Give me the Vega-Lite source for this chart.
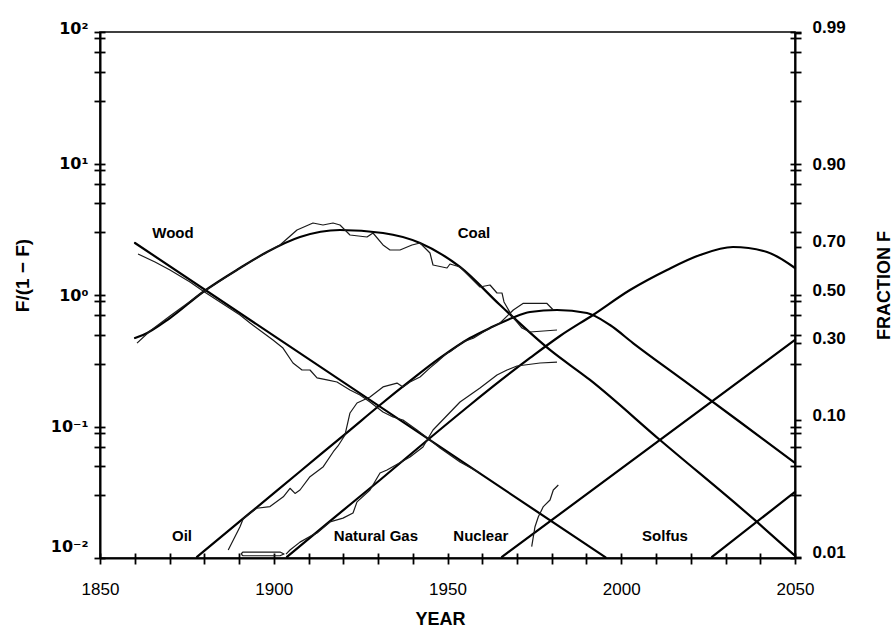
{
  "$schema": "https://vega.github.io/schema/vega-lite/v6.json",
  "width": 695,
  "height": 526,
  "autosize": {"type": "none"},
  "padding": {"left": 100, "top": 32, "right": 98, "bottom": 70},
  "background": "white",
  "config": {
    "view": {"stroke": "black", "strokeWidth": 1.6},
    "font": "Liberation Sans",
    "axis": {"domainColor": "black", "tickColor": "black", "labelColor": "black", "titleColor": "black", "grid": false, "domainWidth": 2, "tickWidth": 1.8, "labelFont": "Liberation Sans", "titleFont": "Liberation Sans", "labelOverlap": false, "labelFlush": false, "labelBound": false}
  },
  "datasets": {
    "fits": [
      {"s": "wood", "year": 1860.07, "v": 2.486},
      {"s": "wood", "year": 1995.5, "v": 0.0101},
      {"s": "coal", "year": 1860.07, "v": 0.471},
      {"s": "coal", "year": 1862.37, "v": 0.496},
      {"s": "coal", "year": 1870.14, "v": 0.668},
      {"s": "coal", "year": 1879.64, "v": 1.054},
      {"s": "coal", "year": 1890.29, "v": 1.604},
      {"s": "coal", "year": 1898.06, "v": 2.123},
      {"s": "coal", "year": 1907.55, "v": 2.761},
      {"s": "coal", "year": 1919.06, "v": 3.121},
      {"s": "coal", "year": 1931.44, "v": 2.961},
      {"s": "coal", "year": 1942.09, "v": 2.486},
      {"s": "coal", "year": 1953.6, "v": 1.633},
      {"s": "coal", "year": 1965.11, "v": 0.839},
      {"s": "coal", "year": 1979.5, "v": 0.382},
      {"s": "coal", "year": 1991.01, "v": 0.226},
      {"s": "coal", "year": 2011.15, "v": 0.0789},
      {"s": "coal", "year": 2039.06, "v": 0.0188},
      {"s": "coal", "year": 2050, "v": 0.0104},
      {"s": "oil", "year": 1877.91, "v": 0.0102},
      {"s": "oil", "year": 1893.17, "v": 0.022},
      {"s": "oil", "year": 1907.55, "v": 0.0455},
      {"s": "oil", "year": 1921.94, "v": 0.094},
      {"s": "oil", "year": 1930.58, "v": 0.1457},
      {"s": "oil", "year": 1939.21, "v": 0.222},
      {"s": "oil", "year": 1947.84, "v": 0.332},
      {"s": "oil", "year": 1956.47, "v": 0.471},
      {"s": "oil", "year": 1962.23, "v": 0.561},
      {"s": "oil", "year": 1968.56, "v": 0.668},
      {"s": "oil", "year": 1973.74, "v": 0.743},
      {"s": "oil", "year": 1981.51, "v": 0.769},
      {"s": "oil", "year": 1990.14, "v": 0.73},
      {"s": "oil", "year": 1996.76, "v": 0.591},
      {"s": "oil", "year": 2003.38, "v": 0.431},
      {"s": "oil", "year": 2017.77, "v": 0.226},
      {"s": "oil", "year": 2034.17, "v": 0.1082},
      {"s": "oil", "year": 2050, "v": 0.0528},
      {"s": "gas", "year": 1903.81, "v": 0.0102},
      {"s": "gas", "year": 1916.19, "v": 0.0191},
      {"s": "gas", "year": 1930.58, "v": 0.0392},
      {"s": "gas", "year": 1944.96, "v": 0.0818},
      {"s": "gas", "year": 1956.47, "v": 0.1457},
      {"s": "gas", "year": 1965.11, "v": 0.222},
      {"s": "gas", "year": 1973.74, "v": 0.332},
      {"s": "gas", "year": 1982.37, "v": 0.488},
      {"s": "gas", "year": 1991.87, "v": 0.705},
      {"s": "gas", "year": 2002.52, "v": 1.091},
      {"s": "gas", "year": 2013.17, "v": 1.55},
      {"s": "gas", "year": 2022.66, "v": 2.015},
      {"s": "gas", "year": 2032.16, "v": 2.317},
      {"s": "gas", "year": 2041.94, "v": 2.123},
      {"s": "gas", "year": 2050, "v": 1.604},
      {"s": "nuclear", "year": 1965.68, "v": 0.0102},
      {"s": "nuclear", "year": 2050, "v": 0.455},
      {"s": "solfus", "year": 2026.12, "v": 0.0102},
      {"s": "solfus", "year": 2050, "v": 0.0318}
    ],
    "obs": [
      {"s": "wood", "n": 1, "year": 1860.94, "v": 2.05},
      {"s": "wood", "n": 2, "year": 1865.83, "v": 1.782},
      {"s": "wood", "n": 3, "year": 1870.14, "v": 1.55},
      {"s": "wood", "n": 4, "year": 1875.9, "v": 1.256},
      {"s": "wood", "n": 5, "year": 1879.64, "v": 1.073},
      {"s": "wood", "n": 6, "year": 1884.53, "v": 0.885},
      {"s": "wood", "n": 7, "year": 1890.29, "v": 0.705},
      {"s": "wood", "n": 8, "year": 1893.17, "v": 0.612},
      {"s": "wood", "n": 9, "year": 1899.78, "v": 0.455},
      {"s": "wood", "n": 10, "year": 1902.66, "v": 0.395},
      {"s": "wood", "n": 11, "year": 1905.54, "v": 0.304},
      {"s": "wood", "n": 12, "year": 1908.13, "v": 0.269},
      {"s": "wood", "n": 13, "year": 1910.43, "v": 0.269},
      {"s": "wood", "n": 14, "year": 1912.45, "v": 0.234},
      {"s": "wood", "n": 15, "year": 1915.32, "v": 0.226},
      {"s": "wood", "n": 16, "year": 1918.2, "v": 0.218},
      {"s": "wood", "n": 17, "year": 1921.94, "v": 0.1895},
      {"s": "wood", "n": 18, "year": 1924.82, "v": 0.1736},
      {"s": "wood", "n": 19, "year": 1927.7, "v": 0.1536},
      {"s": "wood", "n": 20, "year": 1931.44, "v": 0.1289},
      {"s": "wood", "n": 21, "year": 1934.32, "v": 0.1181},
      {"s": "wood", "n": 22, "year": 1937.19, "v": 0.1121},
      {"s": "wood", "n": 23, "year": 1941.22, "v": 0.094},
      {"s": "wood", "n": 24, "year": 1944.96, "v": 0.0789},
      {"s": "wood", "n": 25, "year": 1947.84, "v": 0.0686},
      {"s": "wood", "n": 26, "year": 1953.6, "v": 0.0537},
      {"s": "wood", "n": 27, "year": 1959.35, "v": 0.0443},
      {"s": "coal", "n": 1, "year": 1860.65, "v": 0.431},
      {"s": "coal", "n": 2, "year": 1864.39, "v": 0.532},
      {"s": "coal", "n": 3, "year": 1870.14, "v": 0.692},
      {"s": "coal", "n": 4, "year": 1879.64, "v": 1.054},
      {"s": "coal", "n": 5, "year": 1890.29, "v": 1.604},
      {"s": "coal", "n": 6, "year": 1898.06, "v": 2.123},
      {"s": "coal", "n": 7, "year": 1901.8, "v": 2.401},
      {"s": "coal", "n": 8, "year": 1906.69, "v": 3.121},
      {"s": "coal", "n": 9, "year": 1911.29, "v": 3.528},
      {"s": "coal", "n": 10, "year": 1914.17, "v": 3.406},
      {"s": "coal", "n": 11, "year": 1917.05, "v": 3.528},
      {"s": "coal", "n": 12, "year": 1919.06, "v": 3.406},
      {"s": "coal", "n": 13, "year": 1921.94, "v": 2.859},
      {"s": "coal", "n": 14, "year": 1926.83, "v": 2.761},
      {"s": "coal", "n": 15, "year": 1928.56, "v": 2.961},
      {"s": "coal", "n": 16, "year": 1931.44, "v": 2.401},
      {"s": "coal", "n": 17, "year": 1933.45, "v": 2.198},
      {"s": "coal", "n": 18, "year": 1936.33, "v": 2.198},
      {"s": "coal", "n": 19, "year": 1939.78, "v": 2.401},
      {"s": "coal", "n": 20, "year": 1942.09, "v": 2.486},
      {"s": "coal", "n": 21, "year": 1944.96, "v": 2.086},
      {"s": "coal", "n": 22, "year": 1945.83, "v": 1.691},
      {"s": "coal", "n": 23, "year": 1949.86, "v": 1.604},
      {"s": "coal", "n": 24, "year": 1950.72, "v": 1.721},
      {"s": "coal", "n": 25, "year": 1953.6, "v": 1.633},
      {"s": "coal", "n": 26, "year": 1959.35, "v": 1.15},
      {"s": "coal", "n": 27, "year": 1962.23, "v": 1.191},
      {"s": "coal", "n": 28, "year": 1964.24, "v": 1.036},
      {"s": "coal", "n": 29, "year": 1965.68, "v": 1.036},
      {"s": "coal", "n": 30, "year": 1966.26, "v": 0.885},
      {"s": "coal", "n": 31, "year": 1968.56, "v": 0.692},
      {"s": "coal", "n": 32, "year": 1971.44, "v": 0.561},
      {"s": "coal", "n": 33, "year": 1973.74, "v": 0.523},
      {"s": "coal", "n": 34, "year": 1981.51, "v": 0.542},
      {"s": "oil", "n": 1, "year": 1886.9, "v": 0.0115},
      {"s": "oil", "n": 2, "year": 1890.29, "v": 0.0173},
      {"s": "oil", "n": 3, "year": 1891.24, "v": 0.02},
      {"s": "oil", "n": 4, "year": 1895.09, "v": 0.0239},
      {"s": "oil", "n": 5, "year": 1898.92, "v": 0.0246},
      {"s": "oil", "n": 6, "year": 1902.75, "v": 0.0292},
      {"s": "oil", "n": 7, "year": 1904.68, "v": 0.0339},
      {"s": "oil", "n": 8, "year": 1906.12, "v": 0.031},
      {"s": "oil", "n": 9, "year": 1907.55, "v": 0.0329},
      {"s": "oil", "n": 10, "year": 1910.43, "v": 0.0415},
      {"s": "oil", "n": 11, "year": 1914.26, "v": 0.0495},
      {"s": "oil", "n": 12, "year": 1917.14, "v": 0.0643},
      {"s": "oil", "n": 13, "year": 1918.49, "v": 0.0711},
      {"s": "oil", "n": 14, "year": 1920.5, "v": 0.0862},
      {"s": "oil", "n": 15, "year": 1921.94, "v": 0.1267},
      {"s": "oil", "n": 16, "year": 1923.96, "v": 0.1509},
      {"s": "oil", "n": 17, "year": 1927.7, "v": 0.1676},
      {"s": "oil", "n": 18, "year": 1931.44, "v": 0.2},
      {"s": "oil", "n": 19, "year": 1935.47, "v": 0.214},
      {"s": "oil", "n": 20, "year": 1937.19, "v": 0.2},
      {"s": "oil", "n": 21, "year": 1939.21, "v": 0.218},
      {"s": "oil", "n": 22, "year": 1942.09, "v": 0.238},
      {"s": "oil", "n": 23, "year": 1944.96, "v": 0.279},
      {"s": "oil", "n": 24, "year": 1946.98, "v": 0.309},
      {"s": "oil", "n": 25, "year": 1949.86, "v": 0.362},
      {"s": "oil", "n": 26, "year": 1950.72, "v": 0.3705},
      {"s": "oil", "n": 27, "year": 1954.55, "v": 0.4415},
      {"s": "oil", "n": 28, "year": 1957.42, "v": 0.4685},
      {"s": "oil", "n": 29, "year": 1961.27, "v": 0.542},
      {"s": "oil", "n": 30, "year": 1965.11, "v": 0.612},
      {"s": "oil", "n": 31, "year": 1968.94, "v": 0.769},
      {"s": "oil", "n": 32, "year": 1971.82, "v": 0.865},
      {"s": "oil", "n": 33, "year": 1978.55, "v": 0.865},
      {"s": "oil", "n": 34, "year": 1980.45, "v": 0.769},
      {"s": "gasloop", "n": 1, "year": 1890.58, "v": 0.01073},
      {"s": "gasloop", "n": 2, "year": 1891.15, "v": 0.0111},
      {"s": "gasloop", "n": 3, "year": 1901.8, "v": 0.0111},
      {"s": "gasloop", "n": 4, "year": 1902.95, "v": 0.01073},
      {"s": "gasloop", "n": 5, "year": 1901.8, "v": 0.0104},
      {"s": "gasloop", "n": 6, "year": 1891.15, "v": 0.0104},
      {"s": "gasloop", "n": 7, "year": 1890.58, "v": 0.01073},
      {"s": "gas", "n": 1, "year": 1903.53, "v": 0.0107},
      {"s": "gas", "n": 2, "year": 1904.68, "v": 0.0115},
      {"s": "gas", "n": 3, "year": 1907.55, "v": 0.0132},
      {"s": "gas", "n": 4, "year": 1911.29, "v": 0.015},
      {"s": "gas", "n": 5, "year": 1912.45, "v": 0.0155},
      {"s": "gas", "n": 6, "year": 1916.19, "v": 0.0188},
      {"s": "gas", "n": 7, "year": 1919.93, "v": 0.0201},
      {"s": "gas", "n": 8, "year": 1922.81, "v": 0.022},
      {"s": "gas", "n": 9, "year": 1923.96, "v": 0.0267},
      {"s": "gas", "n": 10, "year": 1927.7, "v": 0.0329},
      {"s": "gas", "n": 11, "year": 1930.58, "v": 0.0443},
      {"s": "gas", "n": 12, "year": 1932.59, "v": 0.0467},
      {"s": "gas", "n": 13, "year": 1939.21, "v": 0.0586},
      {"s": "gas", "n": 14, "year": 1942.95, "v": 0.0698},
      {"s": "gas", "n": 15, "year": 1945.83, "v": 0.094},
      {"s": "gas", "n": 16, "year": 1953.6, "v": 0.1536},
      {"s": "gas", "n": 17, "year": 1959.35, "v": 0.196},
      {"s": "gas", "n": 18, "year": 1964.24, "v": 0.2464},
      {"s": "gas", "n": 19, "year": 1967.12, "v": 0.269},
      {"s": "gas", "n": 20, "year": 1970.0, "v": 0.2884},
      {"s": "gas", "n": 21, "year": 1976.62, "v": 0.304},
      {"s": "gas", "n": 22, "year": 1981.51, "v": 0.309},
      {"s": "nuclear", "n": 1, "year": 1974.23, "v": 0.0122},
      {"s": "nuclear", "n": 2, "year": 1975.18, "v": 0.0173},
      {"s": "nuclear", "n": 3, "year": 1976.14, "v": 0.0206},
      {"s": "nuclear", "n": 4, "year": 1977.58, "v": 0.0246},
      {"s": "nuclear", "n": 5, "year": 1979.5, "v": 0.0276},
      {"s": "nuclear", "n": 6, "year": 1980.45, "v": 0.0329},
      {"s": "nuclear", "n": 7, "year": 1981.89, "v": 0.0359}
    ],
    "labels": [
      {"label": "Wood", "year": 1871.0, "v": 2.961},
      {"label": "Coal", "year": 1957.6, "v": 2.961},
      {"label": "Oil", "year": 1873.6, "v": 0.0147},
      {"label": "Natural Gas", "year": 1929.4, "v": 0.0147},
      {"label": "Nuclear", "year": 1959.6, "v": 0.0147},
      {"label": "Solfus", "year": 2012.6, "v": 0.0147}
    ]
  },
  "layer": [
    {
      "data": {"name": "fits"},
      "mark": {"type": "line", "color": "black", "strokeWidth": 2.2, "interpolate": "monotone", "strokeCap": "round"},
      "encoding": {
        "x": {"field": "year", "type": "quantitative", "scale": {"domain": [1850, 2050], "nice": false, "zero": false},
          "axis": {"orient": "bottom", "values": [1850,1860,1870,1880,1890,1900,1910,1920,1930,1940,1950,1960,1970,1980,1990,2000,2010,2020,2030,2040,2050],
            "format": "d", "labelExpr": "datum.value % 50 === 0 ? datum.label : ''", "tickSize": 6, "labelPadding": 17, "labelFontSize": 17,
            "title": "YEAR", "titleFontSize": 18, "titleFontWeight": "bold", "titleX": 340, "titleY": 52, "titleBaseline": "top", "titleAlign": "center"}},
        "y": {"field": "v", "type": "quantitative", "scale": {"type": "log", "domain": [0.01, 100], "nice": false},
          "axis": {"orient": "left", "values": [0.01,0.03,0.05,0.07,0.09,0.1,0.3,0.5,0.7,0.9,1,3,5,7,9,10,30,50,70,90,100],
            "labelExpr": "datum.value === 100 ? '10²' : datum.value === 10 ? '10¹' : datum.value === 1 ? '10⁰' : datum.value === 0.1 ? '10⁻¹' : datum.value === 0.01 ? '10⁻²' : ''",
            "tickSize": 6, "labelPadding": 6, "labelFont": "DejaVu Sans", "labelFontSize": 16, "labelFontWeight": "bold",
            "labelOffset": {"condition": [{"test": "datum.value === 0.01", "value": -12}, {"test": "datum.value === 100", "value": -4}], "value": 0},
            "title": "F/(1 − F)", "titleFontSize": 19, "titleFontWeight": "bold", "titleAngle": 270, "titleX": -87, "titleY": 243, "titleBaseline": "top", "titleAlign": "center"}},
        "detail": {"field": "s"}
      }
    },
    {
      "data": {"name": "obs"},
      "mark": {"type": "line", "color": "#1a1a1a", "strokeWidth": 1.2, "strokeJoin": "round"},
      "encoding": {
        "x": {"field": "year", "type": "quantitative", "scale": {"domain": [1850, 2050], "nice": false, "zero": false},
          "axis": {"orient": "bottom", "values": [1850,1860,1870,1880,1890,1900,1910,1920,1930,1940,1950,1960,1970,1980,1990,2000,2010,2020,2030,2040,2050],
            "labels": false, "domain": false, "tickSize": -5, "title": null}},
        "y": {"field": "v", "type": "quantitative", "scale": {"type": "log", "domain": [0.01, 100], "nice": false},
          "axis": {"orient": "right", "values": [0.01,0.03,0.05,0.07,0.09,0.1,0.3,0.5,0.7,0.9,1,3,5,7,9,10,30,50,70,90,100,0.010101,0.11111,0.42857,2.3333,99],
            "labelExpr": "indexof([0.010101, 0.11111, 0.42857, 1, 2.3333, 9, 99], datum.value) >= 0 ? format(datum.value / (1 + datum.value), '.2f') : ''",
            "tickSize": 6, "labelPadding": 11, "labelFontSize": 17, "labelFontWeight": "bold", "labelOffset": -5,
            "title": "FRACTION F", "titleFontSize": 18, "titleFontWeight": "bold", "titleAngle": 270, "titleX": 80, "titleY": 253, "titleBaseline": "top", "titleAlign": "center"}},
        "detail": {"field": "s"},
        "order": {"field": "n", "type": "quantitative"}
      }
    },
    {
      "data": {"name": "labels"},
      "mark": {"type": "text", "fontSize": 15, "fontWeight": "bold", "font": "Liberation Sans", "align": "center", "baseline": "middle", "color": "black"},
      "encoding": {
        "x": {"field": "year", "type": "quantitative", "scale": {"domain": [1850, 2050], "nice": false, "zero": false}, "axis": null},
        "y": {"field": "v", "type": "quantitative", "scale": {"type": "log", "domain": [0.01, 100], "nice": false},
          "axis": {"orient": "left", "values": [0.01,0.03,0.05,0.07,0.09,0.1,0.3,0.5,0.7,0.9,1,3,5,7,9,10,30,50,70,90,100], "labels": false, "domain": false, "tickSize": -5, "title": null}},
        "text": {"field": "label"}
      }
    },
    {
      "data": {"name": "labels"},
      "mark": {"type": "point", "opacity": 0},
      "encoding": {
        "x": {"field": "year", "type": "quantitative", "scale": {"domain": [1850, 2050], "nice": false, "zero": false}, "axis": null},
        "y": {"field": "v", "type": "quantitative", "scale": {"type": "log", "domain": [0.01, 100], "nice": false},
          "axis": {"orient": "right", "values": [0.01,0.03,0.05,0.07,0.09,0.1,0.3,0.5,0.7,0.9,1,3,5,7,9,10,30,50,70,90,100], "labels": false, "domain": false, "tickSize": -5, "title": null}}
      }
    }
  ],
  "resolve": {"scale": {"x": "independent", "y": "independent"}}
}
